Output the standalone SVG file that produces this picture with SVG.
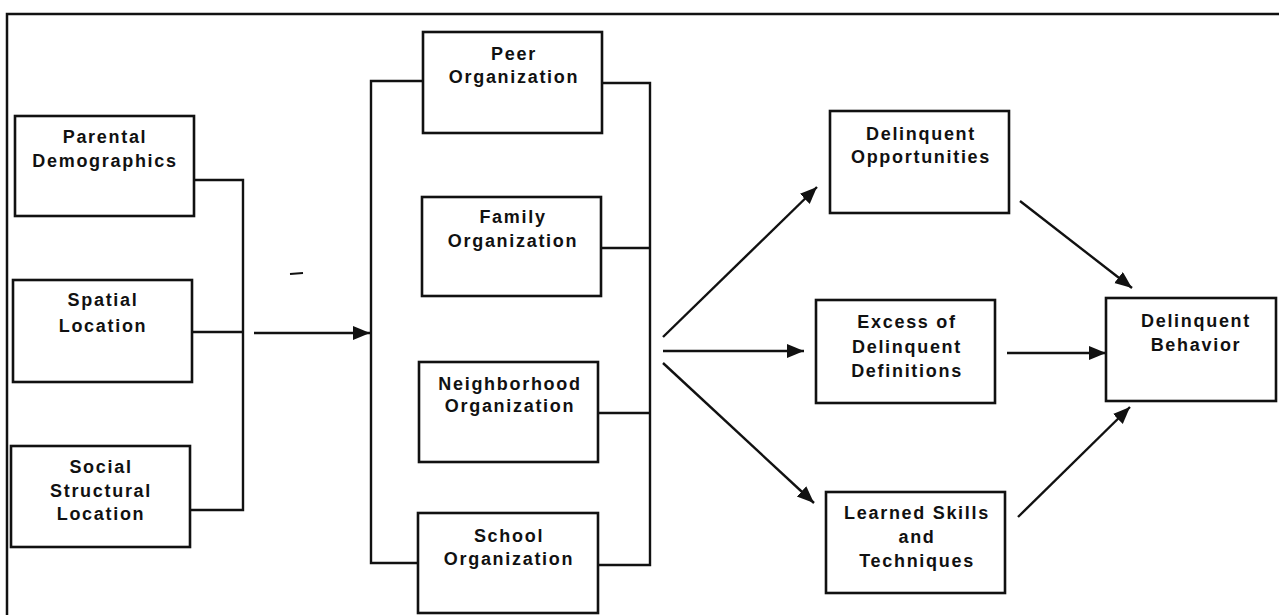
<svg xmlns="http://www.w3.org/2000/svg" width="1279" height="615" viewBox="0 0 1279 615">
  <style>
    .box { fill: #ffffff; stroke: #111111; stroke-width: 2.6; }
    .lbl { font-family: "Liberation Sans", Arial, sans-serif; font-weight: bold; font-size: 18px; letter-spacing: 1.7px; fill: #111111; text-anchor: middle; }
    .ln { fill: none; stroke: #111111; stroke-width: 2.4; }
    .ar { fill: none; stroke: #111111; stroke-width: 2.4; marker-end: url(#ah); }
    .frame { fill: none; stroke: #111111; stroke-width: 2.5; }
  </style>
  <defs>
    <marker id="ah" markerUnits="userSpaceOnUse" markerWidth="18" markerHeight="16" refX="17" refY="7" orient="auto">
      <path d="M0,0 L17,7 L0,14 z" fill="#111111"/>
    </marker>
  </defs>
  <rect width="1279" height="615" fill="#ffffff"/>
  <path class="frame" d="M7,615 L7,14 L1279,14"/>
  <line x1="290" y1="274" x2="303" y2="273" stroke="#111111" stroke-width="2"/>

  <g id="connectors">
    <path class="ln" d="M194,180 L243,180 L243,510 L190,510"/>
    <path class="ln" d="M192,332 L243,332"/>
    <path class="ar" d="M254,333 L370,333"/>
    <path class="ln" d="M423,81 L371,81 L371,563 L418,563"/>
    <path class="ln" d="M602,83 L650,83 L650,565 L598,565"/>
    <path class="ln" d="M601,248 L650,248"/>
    <path class="ln" d="M598,413 L650,413"/>
    <path class="ar" d="M663,337 L817,187"/>
    <path class="ar" d="M663,351 L804,351"/>
    <path class="ar" d="M663,363 L814,503"/>
    <path class="ar" d="M1020,201 L1132,288"/>
    <path class="ar" d="M1007,353 L1106,353"/>
    <path class="ar" d="M1018,517 L1130,407"/>
  </g>

  <g id="parental">
    <rect class="box" x="15" y="116" width="179" height="100"/>
    <text class="lbl" x="105" y="143">Parental</text>
    <text class="lbl" x="105" y="167">Demographics</text>
  </g>
  <g id="spatial">
    <rect class="box" x="13" y="280" width="179" height="102"/>
    <text class="lbl" x="103" y="306">Spatial</text>
    <text class="lbl" x="103" y="332">Location</text>
  </g>
  <g id="social">
    <rect class="box" x="11" y="446" width="179" height="101"/>
    <text class="lbl" x="101" y="473">Social</text>
    <text class="lbl" x="101" y="497">Structural</text>
    <text class="lbl" x="101" y="520">Location</text>
  </g>

  <g id="peer">
    <rect class="box" x="423" y="32" width="179" height="101"/>
    <text class="lbl" x="514" y="60">Peer</text>
    <text class="lbl" x="514" y="83">Organization</text>
  </g>
  <g id="family">
    <rect class="box" x="422" y="197" width="179" height="99"/>
    <text class="lbl" x="513" y="223">Family</text>
    <text class="lbl" x="513" y="247">Organization</text>
  </g>
  <g id="neighborhood">
    <rect class="box" x="419" y="362" width="179" height="100"/>
    <text class="lbl" x="510" y="390">Neighborhood</text>
    <text class="lbl" x="510" y="412">Organization</text>
  </g>
  <g id="school">
    <rect class="box" x="418" y="513" width="180" height="100"/>
    <text class="lbl" x="509" y="542">School</text>
    <text class="lbl" x="509" y="565">Organization</text>
  </g>

  <g id="opportunities">
    <rect class="box" x="830" y="111" width="179" height="102"/>
    <text class="lbl" x="921" y="140">Delinquent</text>
    <text class="lbl" x="921" y="163">Opportunities</text>
  </g>
  <g id="excess">
    <rect class="box" x="816" y="300" width="179" height="103"/>
    <text class="lbl" x="907" y="328">Excess of</text>
    <text class="lbl" x="907" y="353">Delinquent</text>
    <text class="lbl" x="907" y="377">Definitions</text>
  </g>
  <g id="learned">
    <rect class="box" x="826" y="492" width="179" height="101"/>
    <text class="lbl" x="917" y="519">Learned Skills</text>
    <text class="lbl" x="917" y="543">and</text>
    <text class="lbl" x="917" y="567">Techniques</text>
  </g>
  <g id="behavior">
    <rect class="box" x="1106" y="298" width="170" height="103"/>
    <text class="lbl" x="1196" y="327">Delinquent</text>
    <text class="lbl" x="1196" y="351">Behavior</text>
  </g>
</svg>
